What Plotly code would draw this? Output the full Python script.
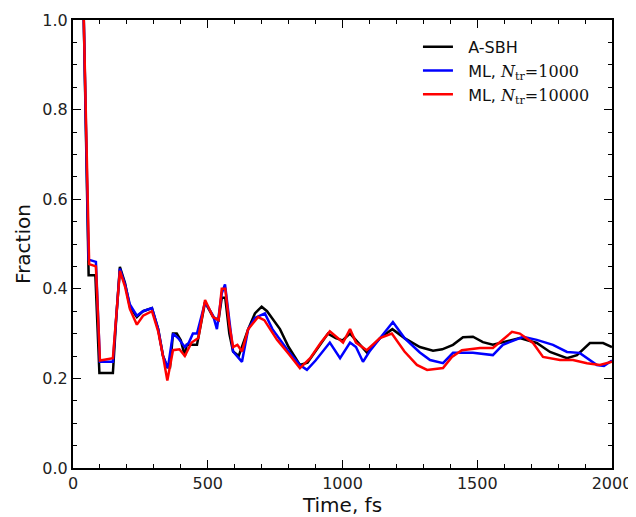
import plotly.graph_objects as go

# A-SBH
t_sbh = [40, 58, 62, 83, 98, 105, 148, 160, 174, 193, 211, 237, 260, 293, 316, 334, 350, 360, 371, 385, 400, 415, 422, 460,
         490, 520, 540, 552, 565, 580, 594, 615, 650, 675, 700, 720, 768, 800, 842, 870, 900, 946, 975, 1000, 1028, 1050,
         1090, 1139, 1185, 1230, 1287, 1336, 1370, 1410, 1447, 1484, 1521, 1558, 1595, 1658, 1721, 1770, 1833, 1870, 1918,
         1967, 2000]
y_sbh = [1.0, 0.43, 0.43, 0.43, 0.212, 0.212, 0.212, 0.33, 0.449, 0.413, 0.36, 0.337, 0.35, 0.357, 0.31, 0.25, 0.225, 0.225,
         0.30, 0.30, 0.285, 0.25, 0.275, 0.275, 0.37, 0.337, 0.33, 0.38, 0.38, 0.30, 0.26, 0.25, 0.31, 0.345, 0.36, 0.35,
         0.31, 0.27, 0.23, 0.235, 0.26, 0.30, 0.29, 0.285, 0.30, 0.285, 0.258, 0.29, 0.31, 0.29, 0.27, 0.262, 0.265, 0.275,
         0.292, 0.293, 0.281, 0.275, 0.281, 0.29, 0.279, 0.259, 0.245, 0.252, 0.279, 0.279, 0.27]

# ML, N_tr = 1000
t_ml1 = [40, 58, 85, 100, 148, 160, 174, 193, 211, 237, 260, 293, 316, 334, 352, 371, 390, 415, 430, 445, 460, 490, 520, 534,
         552, 564, 580, 594, 627, 650, 675, 712, 740, 768, 800, 842, 868, 900, 953, 991, 1028, 1050, 1076, 1100, 1139, 1187,
         1230, 1287, 1325, 1373, 1410, 1443, 1484, 1558, 1595, 1670, 1721, 1781, 1833, 1880, 1944, 1970, 2000]
y_ml1 = [1.0, 0.465, 0.46, 0.237, 0.237, 0.33, 0.445, 0.41, 0.365, 0.34, 0.35, 0.357, 0.31, 0.25, 0.223, 0.30, 0.29, 0.27,
         0.28, 0.30, 0.30, 0.37, 0.34, 0.31, 0.39, 0.41, 0.33, 0.26, 0.237, 0.31, 0.335, 0.345, 0.31, 0.286, 0.26, 0.23,
         0.219, 0.24, 0.28, 0.245, 0.28, 0.27, 0.237, 0.26, 0.29, 0.326, 0.29, 0.258, 0.241, 0.234, 0.257, 0.257, 0.257,
         0.252, 0.275, 0.293, 0.286, 0.275, 0.259, 0.257, 0.23, 0.228, 0.24]

# ML, N_tr = 10000
t_ml2 = [40, 60, 85, 100, 148, 160, 174, 193, 211, 237, 260, 293, 316, 334, 350, 371, 395, 415, 440, 465, 490, 520, 540, 552,
         565, 580, 594, 610, 627, 650, 687, 710, 757, 800, 842, 880, 920, 953, 1002, 1028, 1050, 1090, 1139, 1183, 1230,
         1276, 1314, 1373, 1406, 1443, 1510, 1558, 1629, 1658, 1707, 1744, 1807, 1855, 1907, 1955, 2000]
y_ml2 = [1.0, 0.455, 0.45, 0.24, 0.245, 0.33, 0.44, 0.405, 0.355, 0.32, 0.34, 0.35, 0.305, 0.25, 0.195, 0.263, 0.265, 0.25,
         0.28, 0.29, 0.375, 0.337, 0.33, 0.40, 0.40, 0.32, 0.27, 0.275, 0.26, 0.31, 0.337, 0.33, 0.286, 0.255, 0.223, 0.245,
         0.28, 0.305, 0.28, 0.31, 0.28, 0.263, 0.29, 0.30, 0.26, 0.23, 0.219, 0.223, 0.248, 0.263, 0.268, 0.268, 0.304, 0.30,
         0.279, 0.248, 0.241, 0.241, 0.234, 0.23, 0.237]

x_ticks = [0, 500, 1000, 1500, 2000]
y_ticks = [0.0, 0.2, 0.4, 0.6, 0.8, 1.0]

serif = "'DejaVu Serif', serif"
names = [
    "&nbsp;&nbsp;A-SBH",
    f"&nbsp;&nbsp;ML, <span style=\"font-family:{serif}\"><i>N</i><sub>tr</sub>=1000</span>",
    f"&nbsp;&nbsp;ML, <span style=\"font-family:{serif}\"><i>N</i><sub>tr</sub>=10000</span>",
]

fig = go.Figure()
for t, y, c, n in [(t_sbh, y_sbh, "black", names[0]), (t_ml1, y_ml1, "#0000ff", names[1]), (t_ml2, y_ml2, "#ff0000", names[2])]:
    fig.add_trace(go.Scatter(x=t, y=y, mode="lines", name=n, line=dict(color=c, width=2.5)))

axis_common = dict(
    showline=True, linecolor="black", linewidth=2, mirror="allticks",
    ticks="inside", ticklen=8, tickwidth=1, tickcolor="black",
    showgrid=False, zeroline=False, automargin=False,
    tickfont=dict(family="DejaVu Sans", size=16, color="#222"),
)

fig.update_xaxes(range=[0, 2000], tickvals=x_ticks, ticktext=[str(v) for v in x_ticks],
                 minor=dict(dtick=100, ticks="inside", ticklen=4, tickcolor="black"),
                 title=dict(text="Time, fs", font=dict(family="DejaVu Sans", size=20, color="#111"), standoff=0),
                 **axis_common)
fig.update_yaxes(range=[0, 1.0], tickvals=y_ticks, ticktext=[f"{v:.1f}" for v in y_ticks],
                 minor=dict(dtick=0.05, ticks="inside", ticklen=4, tickcolor="black"),
                 title=dict(text="Fraction", font=dict(family="DejaVu Sans", size=20, color="#111"), standoff=6),
                 **axis_common)

fig.update_layout(
    width=628, height=509,
    margin=dict(l=65, r=24, t=12, b=49, autoexpand=False),
    plot_bgcolor="white", paper_bgcolor="white",
    legend=dict(x=0.64, y=0.978, xanchor="left", yanchor="top", bgcolor="rgba(0,0,0,0)",
                font=dict(family="DejaVu Sans", size=16, color="#111"), tracegroupgap=0, itemwidth=30),
    showlegend=True,
)

fig.write_html("out.html")
